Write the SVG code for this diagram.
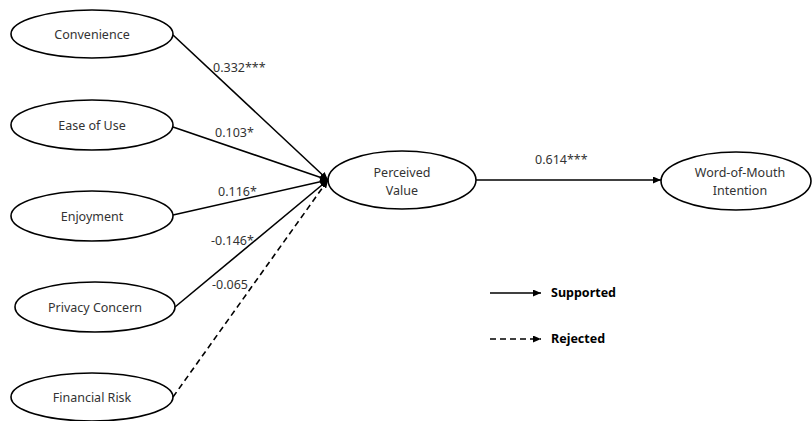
<svg xmlns="http://www.w3.org/2000/svg" width="812" height="421" viewBox="0 0 812 421">
<style>
.node ellipse{fill:#fff;stroke:#000;stroke-width:1.6}
text{font-family:"Noto Sans","Open Sans",sans-serif;font-size:12.5px;fill:#333}
.lbl{text-anchor:middle}
.c{stroke:#000;stroke-width:1.6;fill:none}
.d{stroke-dasharray:6,4}
.leg{font-weight:bold;fill:#000}
</style>
<defs>
<marker id="ah" markerWidth="8" markerHeight="7" refX="8" refY="3.5" orient="auto" markerUnits="userSpaceOnUse">
<path d="M0,0 L8,3.5 L0,7 Z" fill="#000"/>
</marker>
</defs>
<g id="convenience" class="node"><ellipse cx="92" cy="34" rx="81" ry="24"/><text class="lbl" x="92" y="39">Convenience</text></g>
<g id="ease" class="node"><ellipse cx="92" cy="125" rx="81" ry="25"/><text class="lbl" x="92" y="130">Ease of Use</text></g>
<g id="enjoyment" class="node"><ellipse cx="92" cy="216" rx="81" ry="25"/><text class="lbl" x="92" y="221">Enjoyment</text></g>
<g id="privacy" class="node"><ellipse cx="95" cy="307" rx="80" ry="25"/><text class="lbl" x="95" y="312">Privacy Concern</text></g>
<g id="financial" class="node"><ellipse cx="92" cy="397" rx="81" ry="24"/><text class="lbl" x="92" y="402">Financial Risk</text></g>
<g id="perceived" class="node"><ellipse cx="402" cy="180" rx="74" ry="29"/><text class="lbl" x="402" y="177">Perceived</text><text class="lbl" x="402" y="195">Value</text></g>
<g id="wom" class="node"><ellipse cx="736" cy="181" rx="75" ry="29"/><text class="lbl" x="740" y="177">Word-of-Mouth</text><text class="lbl" x="740" y="195">Intention</text></g>
<g id="connectors">
<line class="c" x1="173" y1="35" x2="328" y2="180" marker-end="url(#ah)"/>
<line class="c" x1="173" y1="127" x2="328" y2="180" marker-end="url(#ah)"/>
<line class="c" x1="173" y1="215" x2="328" y2="180" marker-end="url(#ah)"/>
<line class="c" x1="175" y1="307" x2="328" y2="180" marker-end="url(#ah)"/>
<line class="c d" x1="173" y1="397" x2="328" y2="180" marker-end="url(#ah)"/>
<line class="c" x1="476" y1="180" x2="661" y2="180" marker-end="url(#ah)"/>
<text x="213" y="72">0.332***</text>
<text x="215" y="137">0.103*</text>
<text x="218" y="196">0.116*</text>
<text x="211" y="245">-0.146*</text>
<text x="212" y="289">-0.065</text>
<text x="535" y="164">0.614***</text>
</g>
<g id="legend">
<line class="c" x1="490" y1="293" x2="541" y2="293" marker-end="url(#ah)"/>
<text class="leg" x="551" y="297">Supported</text>
<line class="c d" x1="490" y1="339" x2="541" y2="339" marker-end="url(#ah)"/>
<text class="leg" x="551" y="343">Rejected</text>
</g>
</svg>
